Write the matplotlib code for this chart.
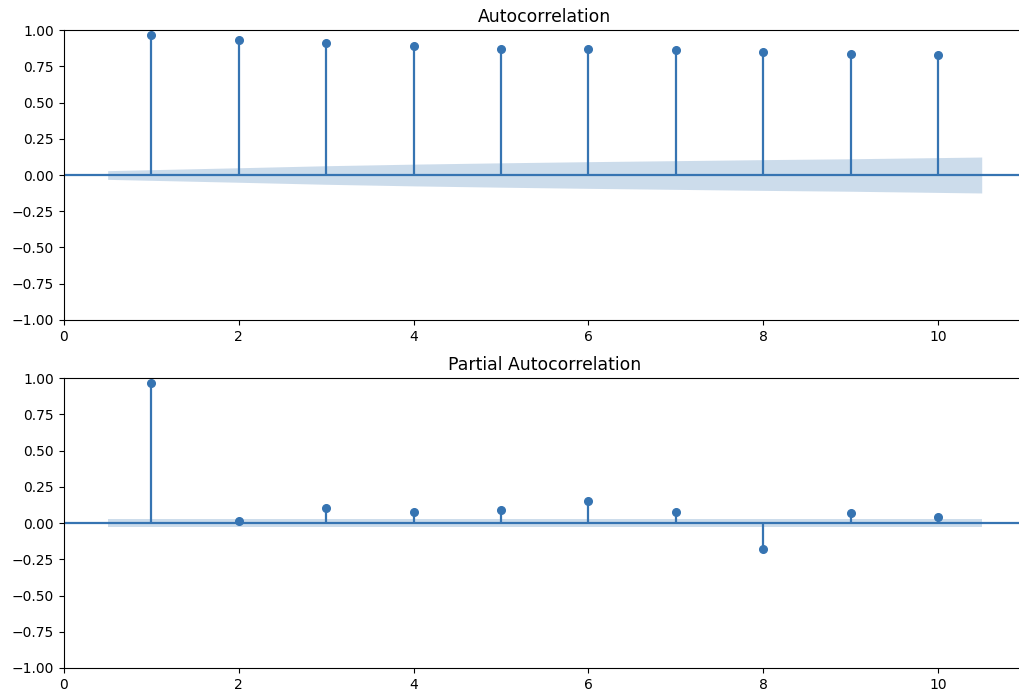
import numpy as np
import matplotlib
matplotlib.use("Agg")
import matplotlib.pyplot as plt

lags = [1, 2, 3, 4, 5, 6, 7, 8, 9, 10]
acf_vals = [0.965, 0.93, 0.91, 0.888, 0.868, 0.87, 0.862, 0.85, 0.837, 0.83]
acf_band = [0.030, 0.050, 0.064, 0.075, 0.084, 0.092, 0.099, 0.106, 0.112, 0.124]
pacf_vals = [0.965, 0.012, 0.107, 0.077, 0.092, 0.15, 0.076, -0.177, 0.069, 0.042]
pacf_band = [0.030] * 10
titles = ["Autocorrelation", "Partial Autocorrelation"]
yticks = [-1.0, -0.75, -0.5, -0.25, 0.0, 0.25, 0.5, 0.75, 1.0]

blue = "#3674b2"

fig = plt.figure(figsize=(10.2, 6.92), dpi=100)
# right edge of the axes runs just past the figure, like the cropped screenshot
ax1 = fig.add_axes([0.0627, 0.5376, 0.9426, 0.419])
ax2 = fig.add_axes([0.0627, 0.0347, 0.9426, 0.419])


def stem_panel(ax, vals, band, title):
    x = np.array(lags, dtype=float)
    ax.vlines(x, 0, vals, color=blue, lw=1.6)
    ax.axhline(0, color=blue, lw=1.6)
    ax.plot(x, vals, "o", color=blue, markersize=5.5)
    xb = x.copy()
    xb[0] -= 0.5
    xb[-1] += 0.5
    b = np.array(band)
    ax.fill_between(xb, -b, b, color=blue, alpha=0.25, lw=0)
    ax.set_xlim(0, 11)
    ax.set_ylim(-1, 1)
    ax.set_yticks(yticks)
    ax.set_xticks([0, 2, 4, 6, 8, 10])
    ax.set_title(title, fontsize=12.4)


stem_panel(ax1, acf_vals, acf_band, titles[0])
stem_panel(ax2, pacf_vals, pacf_band, titles[1])

fig.savefig("out.png", dpi=100)
